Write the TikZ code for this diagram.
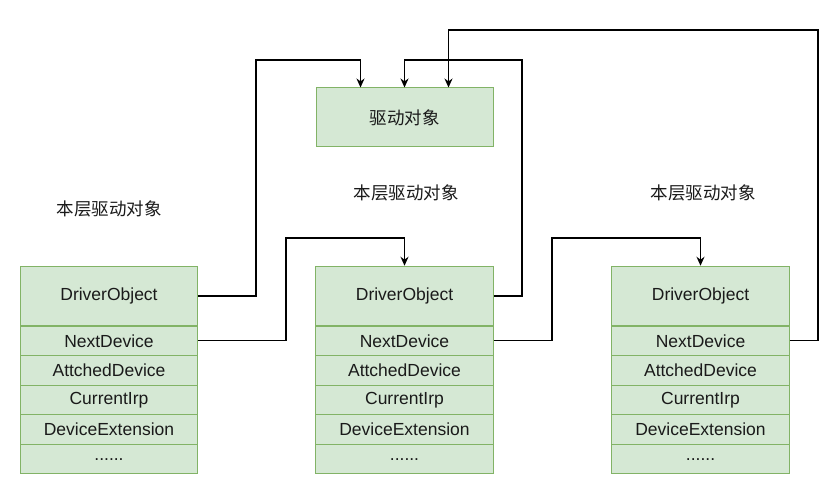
\documentclass[tikz,border=0pt]{standalone}
\usepackage{fontspec}
\setmainfont{Liberation Sans}
\newfontfamily\cjk{Noto Sans CJK SC}
\usetikzlibrary{arrows.meta,calc}
\definecolor{boxfill}{HTML}{D5E8D4}
\definecolor{boxline}{HTML}{82B366}
\definecolor{txt}{HTML}{1A1A1A}
\begin{document}
\begin{tikzpicture}[x=1pt,y=-1pt,
  cell/.style={draw=boxline,fill=boxfill,line width=1pt,minimum width=177.5pt,inner sep=0pt,text=txt,font=\fontsize{17.5}{20}\selectfont},
  head/.style={cell,minimum height=59.5pt},
  row/.style={cell,minimum height=29.5pt},
  lbl/.style={text=txt,inner sep=0pt,font=\cjk\fontsize{17.5}{20}\selectfont},
  conn/.style={draw=black,line width=1.3pt,-{Stealth[length=9pt,width=8pt]}},
  plain/.style={draw=black,line width=1.3pt}]
\useasboundingbox (0,0) rectangle (829,494);
% top driver object box
\node[cell,minimum width=177pt,minimum height=59pt,font=\cjk\fontsize{17.5}{20}\selectfont] (top) at (404.5,117.5) {驱动对象};
% labels
\node[lbl] (lab1) at (109,209) {本层驱动对象};
\node[lbl] (lab2) at (406,193) {本层驱动对象};
\node[lbl] (lab3) at (703,193) {本层驱动对象};
% left stack
\node[head] (ldo) at (109,296) {\raisebox{-1.5pt}{DriverObject}};
\node[row] (lnd) at (109,340.75) {NextDevice};
\node[row] (lad) at (109,370.25) {AttchedDevice};
\node[row] (lci) at (109,399.75) {CurrentIrp};
\node[row] (lde) at (109,429.25) {DeviceExtension};
\node[row] (ldt) at (109,458.75) {\raisebox{-3.5pt}{......}};
% middle stack
\node[head] (mdo) at (404.5,296) {\raisebox{-1.5pt}{DriverObject}};
\node[row] (mnd) at (404.5,340.75) {NextDevice};
\node[row] (mad) at (404.5,370.25) {AttchedDevice};
\node[row] (mci) at (404.5,399.75) {CurrentIrp};
\node[row] (mde) at (404.5,429.25) {DeviceExtension};
\node[row] (mdt) at (404.5,458.75) {\raisebox{-3.5pt}{......}};
% right stack
\node[head] (rdo) at (700.5,296) {\raisebox{-1.5pt}{DriverObject}};
\node[row] (rnd) at (700.5,340.75) {NextDevice};
\node[row] (rad) at (700.5,370.25) {AttchedDevice};
\node[row] (rci) at (700.5,399.75) {CurrentIrp};
\node[row] (rde) at (700.5,429.25) {DeviceExtension};
\node[row] (rdt) at (700.5,458.75) {\raisebox{-3.5pt}{......}};
% connectors
\draw[conn] (ldo.east) -| (256,60) -| ([xshift=-44pt]top.north);
\draw[conn] (mdo.east) -| (522,60) -| (top.north);
\draw[conn] (rnd.east) -| (818,30) -| ([xshift=44pt]top.north);
\draw[conn] (lnd.east) -| (286,238) -| (mdo.north);
\draw[conn] (mnd.east) -| (552,238) -| (rdo.north);
\end{tikzpicture}
\end{document}
